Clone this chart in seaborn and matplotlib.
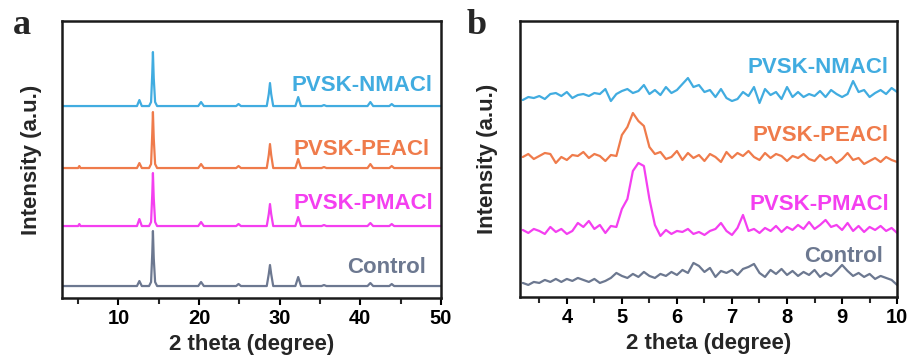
import numpy as np
import pandas as pd
import matplotlib
matplotlib.use("Agg")
import matplotlib.pyplot as plt
from matplotlib.ticker import MultipleLocator
import seaborn as sns

sns.set_theme(style="ticks")
plt.rcParams['font.family'] = ['Liberation Sans', 'DejaVu Sans']
plt.rcParams['font.weight'] = 'bold'

series_names = ["PVSK-NMACl", "PVSK-PEACl", "PVSK-PMACl", "Control"]
colors = ["#41ace0", "#ef7b4b", "#f43ff0", "#6c7890"]

# ---- panel a: XRD 3-50 deg (intensity, stacked, arbitrary units)
xa = [3.0, 5.0, 5.15, 5.3, 12.3, 12.6, 12.9, 13.8, 14.05, 14.2, 14.28, 14.38, 14.55, 14.8,
      19.9, 20.25, 20.6, 24.6, 24.9, 25.2, 28.4, 28.65, 28.8, 28.95, 29.2, 31.95, 32.3, 32.65,
      35.2, 35.5, 35.8, 40.9, 41.25, 41.6, 43.6, 43.9, 44.2, 50.0]
ya_nmacl = [192, 192, 192, 192, 192, 198, 192, 192, 196, 225, 246, 220, 196, 192, 192, 196, 192,
            192, 194, 192, 192, 204, 215, 204, 192, 192, 201, 192, 192, 193, 192, 192, 196, 192,
            192, 194, 192, 192]
ya_peacl = [130, 130, 132, 130, 130, 135, 130, 130, 134, 165, 186, 160, 134, 130, 130, 134, 130,
            130, 132, 130, 130, 143, 154, 143, 130, 130, 139, 130, 130, 131, 130, 130, 134, 130,
            130, 132, 130, 130]
ya_pmacl = [72, 72, 74, 72, 72, 79, 72, 72, 76, 104, 125, 100, 76, 72, 72, 76, 72,
            72, 74, 72, 72, 84, 94, 84, 72, 72, 81, 72, 72, 73, 72, 72, 75, 72,
            72, 74, 72, 72]
ya_control = [12, 12, 12, 12, 12, 17, 12, 12, 16, 45, 67, 40, 16, 12, 12, 16, 12,
              12, 14, 12, 12, 24, 33, 24, 12, 12, 21, 12, 12, 13, 12, 12, 15, 12,
              12, 14, 12, 12]

# ---- panel b: low-angle region 3.2-10 deg
xb = [3.2, 3.3, 3.4, 3.5, 3.6, 3.7, 3.8, 3.9, 4.0, 4.1, 4.2, 4.3, 4.4, 4.5, 4.6, 4.7, 4.8, 4.9,
      5.0, 5.1, 5.2, 5.3, 5.4, 5.5, 5.6, 5.7, 5.8, 5.9, 6.0, 6.1, 6.2, 6.3, 6.4, 6.5, 6.6, 6.7,
      6.8, 6.9, 7.0, 7.1, 7.2, 7.3, 7.4, 7.5, 7.6, 7.7, 7.8, 7.9, 8.0, 8.1, 8.2, 8.3, 8.4, 8.5,
      8.6, 8.7, 8.8, 8.9, 9.0, 9.1, 9.2, 9.3, 9.4, 9.5, 9.6, 9.7, 9.8, 9.9, 10.0]
yb_nmacl = [197, 200, 199, 201, 198, 203, 204, 201, 205, 199, 202, 203, 201, 204, 203, 208, 196, 203,
            206, 208, 204, 206, 212, 203, 207, 202, 210, 204, 207, 213, 219, 210, 212, 205, 207, 200,
            208, 199, 196, 198, 205, 201, 210, 194, 208, 202, 205, 198, 210, 200, 205, 200, 203, 201,
            206, 200, 207, 203, 200, 203, 216, 205, 207, 200, 204, 207, 203, 209, 205]
yb_peacl = [140, 143, 138, 141, 144, 143, 134, 140, 137, 142, 141, 145, 139, 143, 141, 136, 142, 141,
            162, 170, 184, 176, 171, 150, 143, 145, 138, 140, 146, 137, 144, 139, 142, 136, 143, 140,
            135, 145, 139, 144, 141, 146, 140, 137, 144, 139, 143, 141, 136, 141, 139, 143, 138, 136,
            142, 137, 140, 134, 138, 144, 137, 139, 133, 136, 139, 135, 140, 137, 135]
yb_pmacl = [67, 64, 68, 66, 63, 70, 65, 68, 63, 66, 74, 70, 76, 68, 72, 64, 71, 70,
            88, 98, 126, 134, 131, 98, 72, 61, 67, 63, 66, 65, 68, 63, 65, 62, 66, 68,
            74, 66, 62, 69, 82, 66, 68, 64, 69, 66, 71, 65, 70, 67, 72, 68, 75, 68,
            72, 77, 70, 72, 67, 74, 66, 71, 65, 70, 67, 71, 66, 69, 64]
yb_control = [14, 12, 15, 14, 17, 15, 18, 15, 18, 16, 19, 17, 15, 18, 14, 16, 19, 24,
              21, 19, 23, 20, 25, 21, 19, 23, 21, 25, 22, 27, 24, 34, 31, 25, 29, 20,
              26, 24, 27, 22, 28, 30, 33, 24, 20, 27, 23, 28, 22, 26, 21, 25, 22, 27,
              20, 24, 21, 26, 32, 26, 21, 24, 20, 23, 18, 21, 19, 17, 12]

xticks_a = [10, 20, 30, 40, 50]
xticks_b = [4, 5, 6, 7, 8, 9, 10]

# label positions (data coords) - layout
lab_a = [(48.9, 213), (48.6, 149), (49.0, 95), (48.1, 31)]
lab_b = [(9.85, 230), (9.85, 162), (9.85, 92), (9.74, 40)]

def long_df(x, ys):
    frames = []
    for name, y in zip(series_names, ys):
        frames.append(pd.DataFrame({"x": x, "y": y, "s": name}))
    return pd.concat(frames, ignore_index=True)

dfa = long_df(xa, [ya_nmacl, ya_peacl, ya_pmacl, ya_control])
dfb = long_df(xb, [yb_nmacl, yb_peacl, yb_pmacl, yb_control])

fig = plt.figure(figsize=(9.13, 3.63), dpi=100)
axa = fig.add_axes([0.0679, 0.179, 0.415, 0.763])
axb = fig.add_axes([0.5696, 0.182, 0.413, 0.760])

pal = dict(zip(series_names, colors))
for ax, df, xlim, ylim, labs, ticks, minor in [
        (axa, dfa, (3, 50), (0, 277), lab_a, xticks_a, 5),
        (axb, dfb, (3.15, 10), (0, 276), lab_b, xticks_b, 0.5)]:
    sns.lineplot(data=df, x="x", y="y", hue="s", palette=pal, estimator=None,
                 sort=False, linewidth=1.6, legend=False, ax=ax)
    ax.set_xlim(*xlim)
    ax.set_ylim(*ylim)
    ax.set_xticks(ticks)
    ax.xaxis.set_minor_locator(MultipleLocator(minor))
    ax.set_yticks([])
    ax.tick_params(axis='x', which='major', direction='out', length=5, width=1.5,
                   labelsize=14.5, pad=3, colors='black')
    ax.tick_params(axis='x', which='minor', direction='out', length=4, width=1.5)
    for lbl in ax.get_xticklabels():
        lbl.set_fontweight('bold')
    for sp in ax.spines.values():
        sp.set_visible(True)
        sp.set_linewidth(1.8)
        sp.set_color('#1a1a1a')
    ax.set_xlabel("2 theta (degree)", fontsize=16, fontweight='bold', labelpad=4)
    ax.set_ylabel("Intensity (a.u.)", fontsize=16, fontweight='bold')
    for (tx, ty), name, c in zip(labs, series_names, colors):
        ax.text(tx, ty, name, color=c, fontsize=16, fontweight='bold',
                ha='right', va='center')

axa.yaxis.set_label_coords(-0.053, 0.5)
axb.yaxis.set_label_coords(-0.058, 0.5)

fig.text(0.014, 0.905, "a", fontsize=26, fontweight='bold', family='Liberation Serif')
fig.text(0.511, 0.905, "b", fontsize=26, fontweight='bold', family='Liberation Serif')

fig.savefig("out.png", dpi=100)
